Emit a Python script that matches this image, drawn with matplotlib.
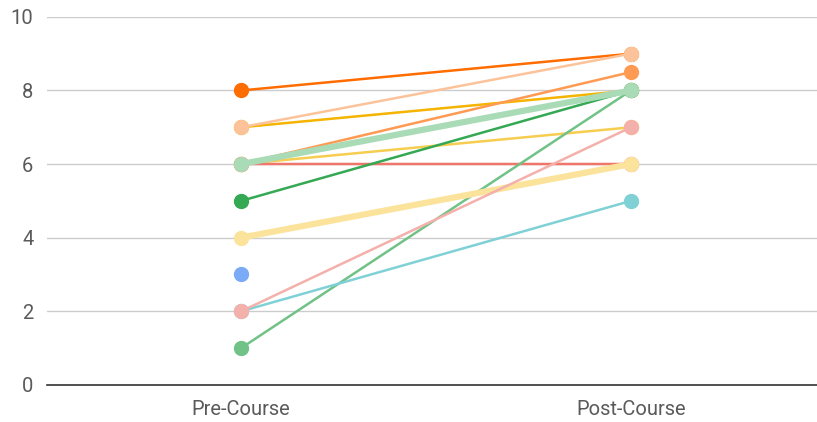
"""Slope chart: self-rated scores before and after the course."""

import matplotlib
matplotlib.use("Agg")
import matplotlib.pyplot as plt

plt.rcParams["font.family"] = ["Roboto", "DejaVu Sans"]

# --- Data (listed in drawing order: later series sit on top) -------------
categories = ["Pre-Course", "Post-Course"]
pre_scores = [8, 7, 6, 6, 6, 5, 1, 2, 7, 6, 4, 2, 3]
post_scores = [9, 8, 8.5, 7, 6, 8, 8, 5, 9, 8, 6, 7, None]
series_colors = ["#ff6d01", "#f4b400", "#ff9a52", "#f7cd4f", "#ee766b",
                 "#34a853", "#71c287", "#7fd1d6", "#fcc39a", "#a9dbb6",
                 "#fbe39c", "#f4b0aa", "#7baaf7"]
line_widths = [2.4, 2.4, 2.4, 2.4, 2.4, 2.4, 2.4, 2.4, 2.4, 6, 6, 2.4, 2.4]
y_ticks = [0, 2, 4, 6, 8, 10]

fig, ax = plt.subplots(figsize=(8.17, 4.22), dpi=100)
fig.subplots_adjust(left=0.058, right=1.0, top=0.96, bottom=0.088)

xs = [0, 1]
for i, (pre, post, col, lw) in enumerate(zip(pre_scores, post_scores,
                                             series_colors, line_widths)):
    if post is None:
        # single pre-course point, no follow-up value
        ax.plot([0], [pre], "o", color=col, ms=10, zorder=3 + i)
        continue
    ax.plot(xs, [pre, post], "-o", color=col, lw=lw * 0.75, ms=10,
            solid_capstyle="round", zorder=3 + i)

# Axes styling: light gridlines, dark baseline, no frame.
ax.set_xlim(-0.497, 1.477)
ax.set_ylim(0, 10)
ax.set_yticks(y_ticks)
ax.set_xticks(xs)
ax.set_xticklabels(categories)
ax.yaxis.grid(True, color="#cccccc", lw=1)
ax.set_axisbelow(True)
for side in ("top", "right", "left"):
    ax.spines[side].set_visible(False)
ax.spines["bottom"].set_color("#333333")
ax.spines["bottom"].set_linewidth(1.2)
ax.spines["bottom"].set_zorder(1)
ax.tick_params(length=0, labelsize=14.5, colors="#5a5a5a")
ax.tick_params(axis="y", pad=10)
ax.tick_params(axis="x", pad=11)

fig.savefig("out.png", dpi=100)
